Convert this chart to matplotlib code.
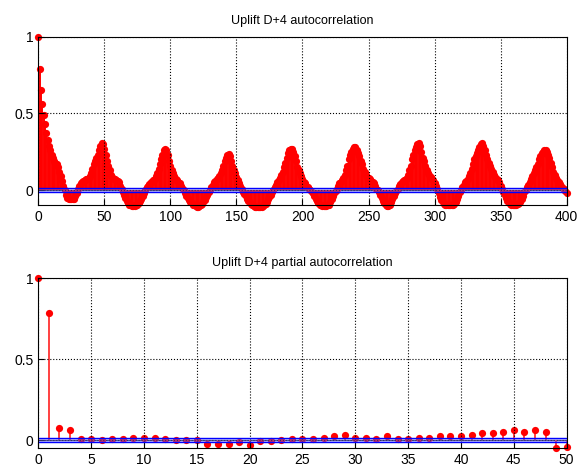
import matplotlib
matplotlib.use("Agg")
import matplotlib.pyplot as plt
import numpy as np

plt.rcParams['font.family'] = ['Liberation Sans', 'DejaVu Sans']

# --- Данные: автокорреляция (лаги 0..400) ---
acf_vals = [
    # 0-23
    1.0, 0.79, 0.65, 0.56, 0.49, 0.43, 0.37, 0.33, 0.29, 0.26, 0.23, 0.21,
    0.19, 0.18, 0.17, 0.15, 0.12, 0.09, 0.06, 0.03, 0.0, -0.03, -0.05, -0.06,
    # 24-71
    -0.06, -0.06, -0.06, -0.055, -0.04, -0.02, 0.01, 0.03, 0.045, 0.055, 0.06, 0.065,
    0.07, 0.075, 0.08, 0.09, 0.11, 0.14, 0.17, 0.19, 0.21, 0.23, 0.26, 0.29,
    0.305, 0.30, 0.27, 0.23, 0.19, 0.16, 0.13, 0.1, 0.085, 0.075, 0.07, 0.065,
    0.06, 0.05, 0.03, 0.01, -0.01, -0.03, -0.05, -0.07, -0.085, -0.095, -0.10, -0.105,
    # 72-119
    -0.105, -0.105, -0.10, -0.095, -0.085, -0.07, -0.055, -0.035, -0.02, 0.0, 0.02, 0.03,
    0.04, 0.05, 0.055, 0.065, 0.075, 0.09, 0.11, 0.14, 0.17, 0.20, 0.23, 0.26,
    0.27, 0.26, 0.23, 0.19, 0.16, 0.13, 0.11, 0.09, 0.075, 0.065, 0.055, 0.045,
    0.03, 0.015, 0.0, -0.02, -0.035, -0.05, -0.065, -0.075, -0.085, -0.095, -0.10, -0.105,
    # 120-167
    -0.11, -0.11, -0.105, -0.10, -0.09, -0.08, -0.065, -0.045, -0.03, -0.01, 0.0, 0.02,
    0.035, 0.05, 0.06, 0.07, 0.08, 0.09, 0.11, 0.13, 0.16, 0.19, 0.21, 0.23,
    0.235, 0.22, 0.19, 0.16, 0.13, 0.11, 0.085, 0.065, 0.045, 0.03, 0.01, -0.01,
    -0.025, -0.04, -0.055, -0.07, -0.08, -0.09, -0.10, -0.105, -0.11, -0.11, -0.11, -0.11,
    # 168-215
    -0.11, -0.11, -0.105, -0.10, -0.09, -0.075, -0.06, -0.045, -0.03, -0.015, 0.0, 0.02,
    0.035, 0.05, 0.065, 0.08, 0.1, 0.12, 0.15, 0.18, 0.21, 0.24, 0.26, 0.27,
    0.265, 0.25, 0.22, 0.19, 0.15, 0.13, 0.11, 0.09, 0.07, 0.055, 0.045, 0.03,
    0.02, 0.01, 0.0, -0.01, -0.02, -0.04, -0.055, -0.07, -0.085, -0.095, -0.10, -0.105,
    # 216-263
    -0.105, -0.105, -0.105, -0.10, -0.095, -0.08, -0.06, -0.04, -0.02, -0.005, 0.01, 0.03,
    0.045, 0.055, 0.065, 0.08, 0.1, 0.13, 0.16, 0.2, 0.23, 0.25, 0.27, 0.28,
    0.28, 0.26, 0.24, 0.22, 0.19, 0.17, 0.14, 0.12, 0.1, 0.085, 0.08, 0.075,
    0.06, 0.05, 0.045, 0.03, 0.01, 0.0, -0.01, -0.03, -0.05, -0.07, -0.085, -0.1,
    # 264-311
    -0.105, -0.105, -0.1, -0.08, -0.06, -0.04, -0.02, -0.005, 0.01, 0.025, 0.04, 0.05,
    0.06, 0.065, 0.075, 0.08, 0.1, 0.13, 0.16, 0.2, 0.23, 0.26, 0.28, 0.3,
    0.305, 0.29, 0.25, 0.21, 0.19, 0.16, 0.13, 0.11, 0.1, 0.085, 0.075, 0.065,
    0.045, 0.025, 0.01, -0.02, -0.045, -0.065, -0.08, -0.09, -0.1, -0.1, -0.1, -0.1,
    # 312-359
    -0.1, -0.1, -0.095, -0.09, -0.075, -0.055, -0.035, -0.015, 0.0, 0.02, 0.035, 0.05,
    0.06, 0.075, 0.09, 0.11, 0.14, 0.17, 0.2, 0.22, 0.24, 0.26, 0.28, 0.30,
    0.31, 0.29, 0.26, 0.23, 0.2, 0.18, 0.16, 0.14, 0.12, 0.1, 0.085, 0.075,
    0.065, 0.05, 0.03, 0.01, -0.01, -0.03, -0.05, -0.07, -0.08, -0.09, -0.095, -0.1,
    # 360-400
    -0.1, -0.1, -0.095, -0.09, -0.085, -0.075, -0.055, -0.035, -0.015, 0.0, 0.02, 0.035,
    0.05, 0.07, 0.09, 0.11, 0.13, 0.15, 0.17, 0.2, 0.22, 0.24, 0.25, 0.26,
    0.26, 0.25, 0.23, 0.21, 0.18, 0.15, 0.12, 0.1, 0.08, 0.065, 0.05, 0.04,
    0.03, 0.015, 0.005, -0.005, -0.02,
]

# --- Данные: частная автокорреляция (лаги 0..50) ---
pacf_vals = [
    1.0, 0.787, 0.076, 0.062, 0.006, 0.006, 0.0, 0.006, 0.006, 0.016, 0.016,
    0.016, 0.008, 0.0, 0.0, 0.0, -0.025, -0.025, -0.022, -0.014, -0.031,
    -0.006, -0.006, 0.0, 0.008, 0.004, 0.006, 0.016, 0.025, 0.031, 0.016,
    0.016, 0.006, 0.025, 0.006, 0.006, 0.016, 0.016, 0.025, 0.025, 0.025,
    0.031, 0.041, 0.045, 0.052, 0.062, 0.052, 0.062, 0.052, -0.05, -0.045,
]

conf_bound = 0.014   # доверительные границы
acf_lags = np.arange(len(acf_vals))
pacf_lags = np.arange(len(pacf_vals))

fig = plt.figure(figsize=(5.78, 4.69), dpi=100)
ax1 = fig.add_axes([0.0663, 1 - 205.5 / 469, 0.9141, (205.5 - 36.7) / 469])
ax2 = fig.add_axes([0.0663, 1 - 448.2 / 469, 0.9141, (448.2 - 278.3) / 469])


def draw_stem(ax, lags, vals, xmax, ymin, xticks, title, stem_color):
    ax.fill_between([0, xmax], -conf_bound, conf_bound, color='#7070ff', alpha=0.4,
                    linewidth=0, zorder=3)
    ax.axhline(0, color='#444444', linewidth=0.8, zorder=1)
    ax.vlines(lags, 0, vals, colors=stem_color, linewidth=1.4, zorder=2)
    ax.plot(lags, vals, 'o', color='red', markersize=5.2, markeredgewidth=0,
            zorder=2, clip_on=False)
    ax.axhline(conf_bound, color='blue', linewidth=1.0, zorder=4)
    ax.axhline(-conf_bound, color='blue', linewidth=1.0, zorder=4)
    ax.set_xlim(0, xmax)
    ax.set_ylim(ymin, 1)
    ax.set_xticks(xticks)
    ax.set_yticks([0, 0.5, 1])
    ax.set_yticklabels(['0', '0.5', '1'])
    ax.tick_params(direction='in', labelsize=10, length=4)
    ax.grid(True, linestyle=':', color='black', linewidth=0.8)
    ax.set_axisbelow(False)
    ax.set_title(title, fontsize=9, pad=9)
    for s in ax.spines.values():
        s.set_linewidth(0.8)
        s.set_zorder(5)


draw_stem(ax1, acf_lags, acf_vals, 400, -0.1, range(0, 401, 50),
          'Uplift D+4 autocorrelation', 'red')
draw_stem(ax2, pacf_lags, pacf_vals, 50, -0.05, range(0, 51, 5),
          'Uplift D+4 partial autocorrelation', '#ff4040')

fig.savefig('out.png', dpi=100)
